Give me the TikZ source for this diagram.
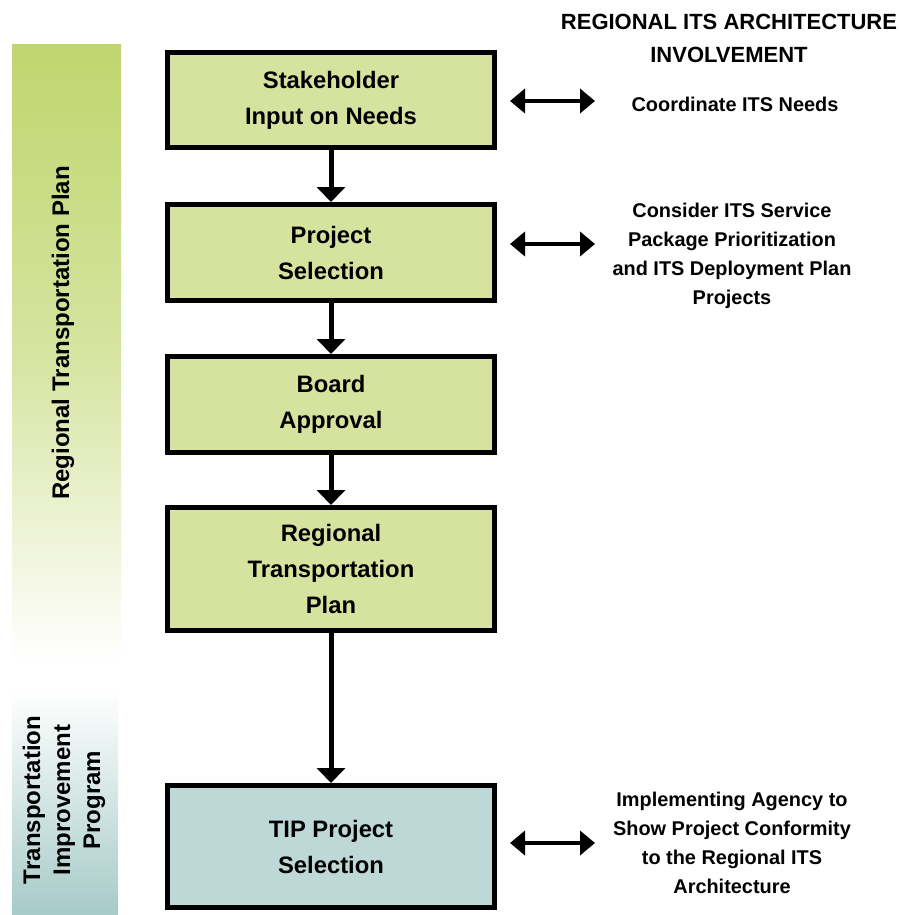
\documentclass[tikz,border=0pt]{standalone}
\usepackage{fontspec}
\setmainfont{Liberation Sans}
\usetikzlibrary{arrows.meta}
\definecolor{boxgreen}{RGB}{214,227,158}
\definecolor{boxteal}{RGB}{189,216,214}
\definecolor{bargreen}{RGB}{192,213,110}
\definecolor{bargreenmid}{RGB}{214,228,160}
\definecolor{barteal}{RGB}{166,203,200}
\begin{document}
\begin{tikzpicture}[x=1pt,y=-1pt,
  flowbox/.style={draw=black, line width=5pt, minimum width=327pt, align=center,
    font=\bfseries\fontsize{23.8}{36}\selectfont, inner sep=0pt},
  flowarrow/.style={line width=5pt, -{Triangle[width=28pt,length=15pt]}},
  dblarrow/.style={line width=4pt, {Triangle[width=24pt,length=15pt]}-{Triangle[width=24pt,length=15pt]}},
  sidetext/.style={align=center, font=\bfseries\fontsize{19.9}{29}\selectfont, inner sep=0pt},
  barlabel/.style={align=center, rotate=90, font=\bfseries\fontsize{24}{30}\selectfont, inner sep=0pt}]
\useasboundingbox (0,0) rectangle (901,915);

% side bars
\shade[top color=bargreen, bottom color=white, middle color=bargreenmid] (12,45) rectangle (121,662);
\shade[top color=white, bottom color=barteal] (12,690) rectangle (118,915);
\node[barlabel] (rtp) at (63,333) {Regional Transportation Plan};
\node[barlabel] (tip) at (64,800) {Transportation\\Improvement\\Program};

% header
\node[align=center, font=\bfseries\fontsize{22}{33}\selectfont, inner sep=0pt] (hdr) at (729,38) {REGIONAL ITS ARCHITECTURE\\INVOLVEMENT};

% boxes
\node[flowbox, fill=boxgreen, minimum height=95pt] (b1) at (331,100) {Stakeholder\\Input on Needs};
\node[flowbox, fill=boxgreen, minimum height=96pt] (b2) at (331,252.5) {Project\\Selection};
\node[flowbox, fill=boxgreen, minimum height=96pt] (b3) at (331,404.5) {Board\\Approval};
\node[flowbox, fill=boxgreen, minimum height=123pt] (b4) at (331,569) {Regional\\Transportation\\Plan};
\node[flowbox, fill=boxteal, minimum height=122pt] (b5) at (331,846.5) {TIP Project\\Selection};

\draw[flowarrow] (b1) -- (b2);
\draw[flowarrow] (b2) -- (b3);
\draw[flowarrow] (b3) -- (b4);
\draw[flowarrow] (b4) -- (b5);

% side texts
\node[sidetext] (c1) at (735,104) {Coordinate ITS Needs};
\node[sidetext] (c2) at (732,256) {Consider ITS Service\\Package Prioritization\\and ITS Deployment Plan\\Projects};
\node[sidetext] (c3) at (732,843) {Implementing Agency to\\Show Project Conformity\\to the Regional ITS\\Architecture};

\coordinate (a1l) at (510,101); \coordinate (a1r) at (595,101);
\coordinate (a2l) at (510,244); \coordinate (a2r) at (595,244);
\coordinate (a3l) at (510,843); \coordinate (a3r) at (595,843);
\draw[dblarrow] (a1l) -- (a1r);
\draw[dblarrow] (a2l) -- (a2r);
\draw[dblarrow] (a3l) -- (a3r);
\end{tikzpicture}
\end{document}
